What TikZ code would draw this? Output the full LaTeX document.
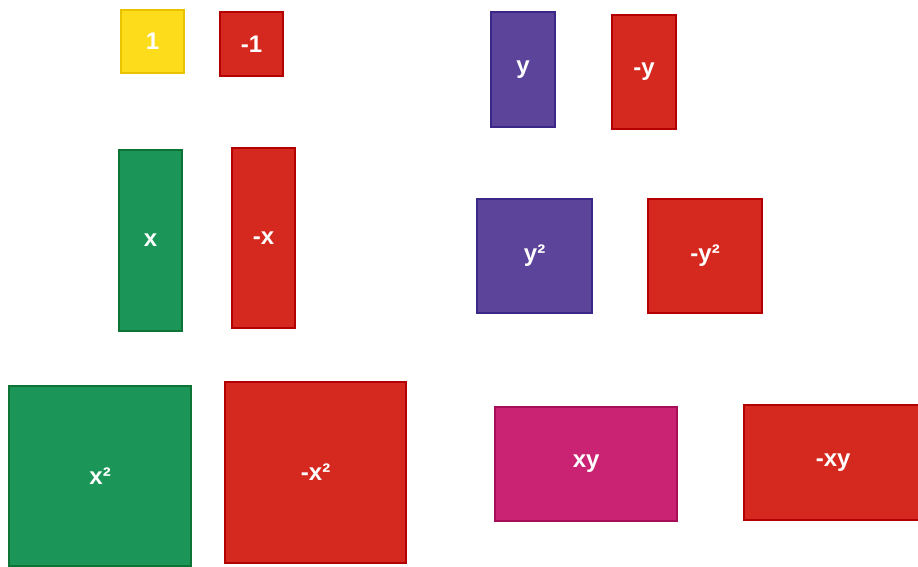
\documentclass[tikz,border=0pt]{standalone}
\usepackage{fontspec}
\setmainfont{Liberation Sans}
\usepackage{tikz}
\usetikzlibrary{positioning}
\definecolor{unitfill}{HTML}{FDDC1C}
\definecolor{unitline}{HTML}{E8C400}
\definecolor{negfill}{HTML}{D5281F}
\definecolor{negline}{HTML}{B30000}
\definecolor{xfill}{HTML}{1C9658}
\definecolor{xline}{HTML}{0D7435}
\definecolor{yfill}{HTML}{5C449B}
\definecolor{yline}{HTML}{3B2787}
\definecolor{xyfill}{HTML}{CA2373}
\definecolor{xyline}{HTML}{A60E58}
\tikzset{
  tile/.style={rectangle, draw, line width=2.2pt, anchor=north west,
    inner sep=0pt, align=center, text=white, font=\fontsize{24}{28}\selectfont\bfseries},
  unittile/.style={tile, fill=unitfill, draw=unitline},
  negtile/.style={tile, fill=negfill, draw=negline},
  xtile/.style={tile, fill=xfill, draw=xline},
  ytile/.style={tile, fill=yfill, draw=yline},
  xytile/.style={tile, fill=xyfill, draw=xyline},
}
\begin{document}
\begin{tikzpicture}[x=1pt, y=-1pt]
  \useasboundingbox (0,0) rectangle (918,567);

  % Constant tiles
  \node[unittile, minimum width=63pt, minimum height=63pt] (one) at (120,9) {1};
  \node[negtile, minimum width=63pt, minimum height=64pt] (negone) at (219,11) {-1};

  % y tiles
  \node[ytile, minimum width=64pt, minimum height=115pt] (ytile) at (490,11) {y};
  \node[negtile, minimum width=64pt, minimum height=114pt] (negy) at (611,14) {-y};

  % x tiles
  \node[xtile, minimum width=63pt, minimum height=181pt] (xtile) at (118,149) {x};
  \node[negtile, minimum width=63pt, minimum height=180pt] (negx) at (231,147) {-x};

  % y squared tiles
  \node[ytile, minimum width=115pt, minimum height=114pt] (ysq) at (476,198) {y²};
  \node[negtile, minimum width=114pt, minimum height=114pt] (negysq) at (647,198) {-y²};

  % x squared tiles
  \node[xtile, minimum width=182pt, minimum height=180pt] (xsq) at (8,385) {x²};
  \node[negtile, minimum width=181pt, minimum height=181pt] (negxsq) at (224,381) {-x²};

  % xy tiles (the negative one runs off the right edge)
  \node[xytile, minimum width=182pt, minimum height=114pt] (xy) at (494,406) {xy};
  \node[negtile, minimum width=178pt, minimum height=115pt] (negxy) at (743,404) {-xy};
\end{tikzpicture}
\end{document}
